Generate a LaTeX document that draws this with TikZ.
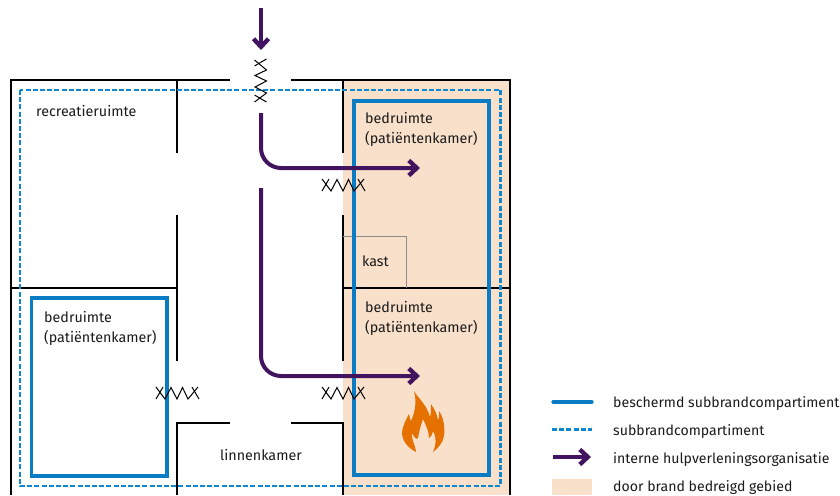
\documentclass[tikz,border=0pt]{standalone}
\usepackage{fontspec}
\setmainfont{Fira Sans}
\definecolor{peach}{HTML}{F8E0CA}
\definecolor{compblue}{HTML}{0A7CC4}
\definecolor{dashblue}{HTML}{0F86D0}
\definecolor{hulp}{HTML}{42145F}
\definecolor{flame}{HTML}{E57200}
\definecolor{txt}{HTML}{1A1A1A}
\usetikzlibrary{arrows.meta}
\tikzset{
 wall/.style={draw=black,line width=1.3pt},
 thin wall/.style={draw=black!45,line width=1pt},
 prot/.style={draw=compblue,line width=3.2pt},
 sub/.style={draw=dashblue,line width=2.4pt,dash pattern=on 5pt off 2.2pt},
 route/.style={draw=hulp,line width=4pt,rounded corners=20pt,-{Straight Barb[length=8pt,width=15pt,line width=4.4pt]}},
 zz/.style={draw=black,line width=1pt},
 lab/.style={font=\fontsize{14.3}{20}\selectfont,text=txt,anchor=north west,inner sep=0pt,align=left},
 leg/.style={font=\fontsize{14.1}{16}\selectfont,text=txt,anchor=west,inner sep=0pt},
 doorswing/.pic={
  \draw[zz] (-21.5,-6) -- (-12.5,6) -- (-6.5,-5.5) -- (-0.5,6) -- (5,-5.5) -- (10.5,6) -- (20.5,-6);
  \draw[zz] (-21.5,6) -- (-14.5,-6);
  \draw[zz] (21.5,6) -- (14.5,-6);
 },
}
\begin{document}
\begin{tikzpicture}[x=1pt,y=-1pt]
\useasboundingbox (0,0) rectangle (840,495);
\fill[peach] (343,80) rectangle (510,495);
% walls
\draw[wall] (230,80) -- (11,80) -- (11,495);
\draw[wall] (291,80) -- (510,80) -- (510,495);
\draw[wall] (177,80) -- (177,153);
\draw[wall] (177,215) -- (177,361);
\draw[wall] (343,80) -- (343,153);
\draw[wall] (343,215) -- (343,361);
\draw[wall] (11,288) -- (177,288);
\draw[wall] (343,288) -- (510,288);
\draw[wall] (177,495) -- (177,423) -- (230,423);
\draw[wall] (291,423) -- (343,423) -- (343,495);
\draw[thin wall] (343,236) -- (406,236) -- (406,288);
% compartments
\draw[sub] (20,90) rectangle (500.5,486);
\draw[prot] (354,101) rectangle (489,475);
\draw[prot] (31.5,298) rectangle (167,476);
% routes
\coordinate (r0) at (261,8); \coordinate (r0e) at (261,50);
\coordinate (r1) at (261,113); \coordinate (r1c) at (261,168); \coordinate (r1e) at (420,168);
\coordinate (r2) at (261,188); \coordinate (r2c) at (261,376); \coordinate (r2e) at (420,376);
\draw[route,rounded corners=0pt] (r0) -- (r0e);
\draw[route] (r1) -- (r1c) -- (r1e);
\draw[route] (r2) -- (r2c) -- (r2e);
% flame
\fill[flame] (414,391) .. controls (418,398) and (427,405) .. (430,417)
 .. controls (431,414) and (431,409) .. (431,404)
 .. controls (435,410) and (437,414) .. (438,420)
 .. controls (440,416) and (439,414) .. (439,411)
 .. controls (444,418) and (445,428) .. (444,436)
 .. controls (443,443) and (438,448) .. (433,452)
 .. controls (436,445) and (437,438) .. (433,431)
 .. controls (432,435) and (431,437) .. (429,438)
 .. controls (429,432) and (426,425) .. (423,419)
 .. controls (421,425) and (419,431) .. (418,438)
 .. controls (415,441) and (414,435) .. (412,433)
 .. controls (411,440) and (416,446) .. (416,452)
 .. controls (410,449) and (403,443) .. (402,434)
 .. controls (402,426) and (407,418) .. (409,414)
 .. controls (410,418) and (410,420) .. (411,421)
 .. controls (415,412) and (417,402) .. (414,391) -- cycle;
% door swings
\pic[rotate=90] at (260.5,80.5) {doorswing};
\pic at (343.5,185) {doorswing};
\pic at (343.5,393) {doorswing};
\pic at (177.5,393) {doorswing};
% labels
\node[lab] (recreatie) at (36,105.5) {recreatieruimte};
\node[lab] (bedA) at (365,112.5) {bedruimte\\(patiëntenkamer)};
\node[lab] (bedB) at (365,301.5) {bedruimte\\(patiëntenkamer)};
\node[lab] (bedC) at (44,311.5) {bedruimte\\(patiëntenkamer)};
\node[lab] (kast) at (362,255.5) {kast};
\node[lab] (linnen) at (220,449.5) {linnenkamer};
% legend
\draw[prot,line cap=round] (553,402) -- (592,402);
\draw[sub] (552,429.5) -- (592,429.5);
\coordinate (la) at (553,457); \coordinate (lb) at (591,457);
\draw[route,rounded corners=0pt] (la) -- (lb);
\fill[peach] (552,479) rectangle (592,495);
\node[leg] (l1) at (613,403) {beschermd subbrandcompartiment};
\node[leg] (l2) at (613,431) {subbrandcompartiment};
\node[leg] (l3) at (613,459) {interne hulpverleningsorganisatie};
\node[leg] (l4) at (613,487) {door brand bedreigd gebied};
\end{tikzpicture}
\end{document}
